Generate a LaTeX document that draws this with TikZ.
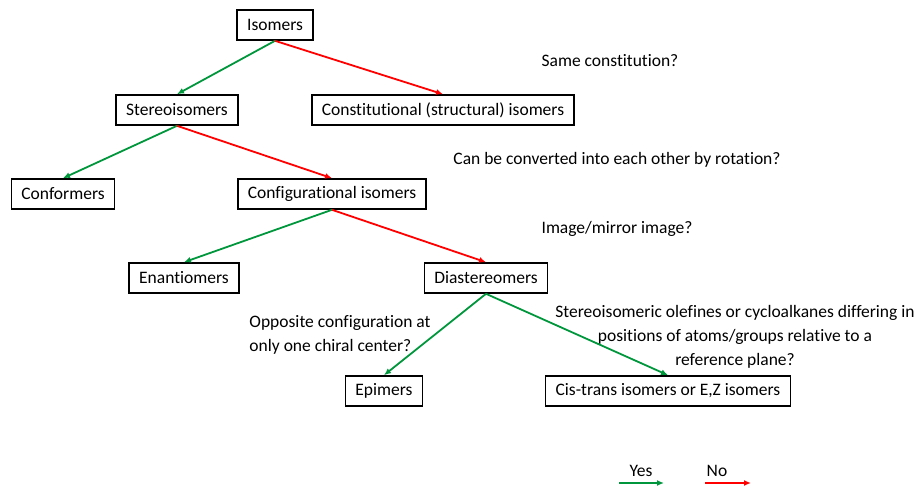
\documentclass[tikz,border=0pt]{standalone}
\usepackage{fontspec}
\setmainfont{Carlito}[Ligatures=NoCommon]
\usetikzlibrary{arrows.meta}
\definecolor{yesgreen}{RGB}{0,150,60}
\definecolor{nored}{RGB}{255,0,0}

\begin{document}
\begin{tikzpicture}[x=1pt,y=-1pt,>={Latex[length=7pt,width=6pt]},
                    font=\fontsize{17.5}{24}\selectfont,
                    class/.style={draw,line width=1.6pt,inner xsep=10pt,
                                  inner ysep=0pt,minimum height=30pt},
                    yes/.style={->,draw=yesgreen,line width=1.8pt},
                    no/.style={->,draw=nored,line width=1.8pt}]
  \useasboundingbox (0,0) rectangle (919,487);

  \node[class] (iso)    at (275,25)  {Isomers};
  \node[class] (stereo) at (177,110) {Stereoisomers};
  \node[class] (const)  at (443,110) {Constitutional (structural) isomers};
  \node[class] (conf)   at (63,194)  {Conformers};
  \node[class] (config) at (332,194) {Configurational isomers};
  \node[class] (enan)   at (184,278) {Enantiomers};
  \node[class] (dia)    at (486,278) {Diastereomers};
  \node[class] (epi)    at (384,391) {Epimers};
  \node[class] (cis)    at (668,391) {Cis-trans isomers or E,Z isomers};

  \node (q1) at (610,61)  {Same constitution?};
  \node (q2) at (617,160) {Can be converted into each other by rotation?};
  \node (q3) at (617,229) {Image/mirror image?};
  \node[align=left]   (q4) at (340,335) {Opposite configuration at\\only one chiral center?};
  \node[align=center] (q5) at (735,337) {Stereoisomeric olefines or cycloalkanes differing in\\positions of atoms/groups relative to a\\reference plane?};

  \path (iso.south)    edge[yes] (stereo.north)
                       edge[no]  (const.north)
        (stereo.south) edge[yes] (conf.north)
                       edge[no]  (config.north)
        (config.south) edge[yes] (enan.north)
                       edge[no]  (dia.north)
        (dia.south)    edge[yes] (epi.north)
                       edge[yes] (cis.north);

  % legend
  \node (yestxt) at (641,471) {Yes};
  \node (notxt)  at (717,471) {No};
  \coordinate (yesA) at (619,483);
  \coordinate (yesB) at (664,483);
  \coordinate (noA)  at (705,483);
  \coordinate (noB)  at (751,483);
  \draw[yes] (yesA) -- (yesB);
  \draw[no]  (noA) -- (noB);
\end{tikzpicture}
\end{document}
